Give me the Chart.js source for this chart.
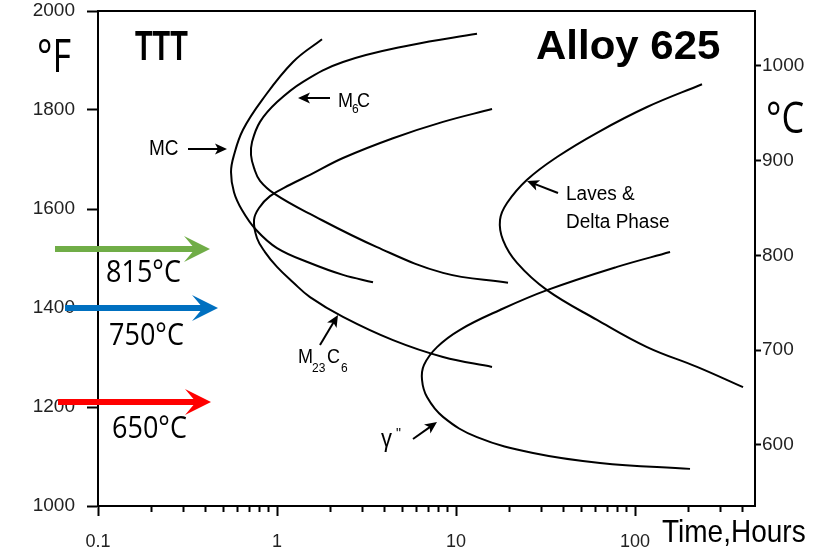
<!DOCTYPE html>
<html><head><meta charset="utf-8">
<script src="https://cdn.jsdelivr.net/npm/chart.js@4.4.1/dist/chart.umd.min.js"></script>
<style>html,body{margin:0;padding:0;background:#fff;overflow:hidden}</style>
</head><body>
<canvas id="c" width="815" height="549"></canvas>
<script>
// ---- data (time in hours, temperature in °F) ----
const mcTime   = [1.784, 1.228, 0.8245, 0.6457, 0.5751, 0.5534, 0.5751, 0.6374, 0.7634, 1.0, 1.529, 2.337, 3.438];
const mcTemp   = [1943, 1897, 1820, 1760, 1709, 1675, 1634, 1598, 1558, 1521, 1491, 1467, 1452];
const m6cTime  = [13.10, 5.534, 2.337, 1.397, 1.0, 0.8037, 0.7249, 0.7157, 0.744, 0.8037, 0.9746, 1.529, 3.619, 8.459, 19.52];
const m6cTemp  = [1954, 1931, 1897, 1857, 1816, 1776, 1735, 1709, 1683, 1657, 1630, 1590, 1523, 1471, 1451];
const m23Time  = [15.89, 8.459, 4.447, 2.337, 1.529, 1.182, 0.914, 0.7934, 0.744, 0.7733, 0.857, 1.0, 1.228, 1.529, 2.337, 4.447, 8.459, 15.89];
const m23Temp  = [1802, 1776, 1743, 1703, 1669, 1649, 1626, 1602, 1578, 1541, 1513, 1483, 1452, 1422, 1382, 1335, 1301, 1281];
const lavesTime = [236.7, 116.7, 61.35, 36.66, 24.93, 19.28, 17.61, 18.31, 21.92, 32.24, 61.35, 116.7, 222.0, 401.3];
const lavesTemp = [1852, 1806, 1754, 1705, 1659, 1612, 1578, 1537, 1491, 1436, 1376, 1321, 1281, 1240];
const gammaTime = [156.9, 79.35, 32.24, 17.61, 10.53, 7.83, 6.626, 6.457, 6.887, 8.459, 13.10, 26.93, 63.75, 202.9];
const gammaTemp = [1513, 1483, 1436, 1396, 1356, 1321, 1285, 1255, 1220, 1180, 1139, 1107, 1087, 1075];

const fTicks = [1000, 1200, 1400, 1600, 1800, 2000];
const cTicks = [600, 700, 800, 900, 1000];
const timeMajor = [0.1, 1, 10, 100];
const timeMinor = [0.2,0.3,0.4,0.5,0.6,0.7,0.8,0.9, 2,3,4,5,6,7,8,9, 20,30,40,50,60,70,80,90, 200,300,400];
const allTime = timeMajor.concat(timeMinor).sort((a,b)=>a-b);

const tempLabels = ['815°C', '750°C', '650°C'];
const tempColors = ['#70AD47', '#0070C0', '#FF0000'];

const curves = [[mcTime, mcTemp], [m6cTime, m6cTemp], [m23Time, m23Temp], [lavesTime, lavesTemp], [gammaTime, gammaTemp]];

const SANS = '"Liberation Sans", Arial, sans-serif';
const OPEN = '"Open Sans", sans-serif';

function T(ctx, s, x, y, font, sx, sy) {
  ctx.save();
  ctx.translate(x, y);
  ctx.scale(sx || 1, sy || 1);
  ctx.font = font;
  ctx.fillStyle = '#000';
  ctx.textAlign = 'left';
  ctx.textBaseline = 'alphabetic';
  ctx.fillText(s, 0, 0);
  ctx.restore();
}
function arr(ctx, x1, y1, x2, y2) {
  const a = Math.atan2(y2 - y1, x2 - x1), c = Math.cos(a), s = Math.sin(a);
  const L = 12, W = 5.5;
  ctx.save();
  ctx.strokeStyle = '#000'; ctx.fillStyle = '#000'; ctx.lineWidth = 2;
  ctx.beginPath(); ctx.moveTo(x1, y1); ctx.lineTo(x2 - c * 8, y2 - s * 8); ctx.stroke();
  ctx.beginPath();
  ctx.moveTo(x2, y2);
  ctx.lineTo(x2 - L * c - W * s, y2 - L * s + W * c);
  ctx.lineTo(x2 - (L - 3) * c, y2 - (L - 3) * s);
  ctx.lineTo(x2 - L * c + W * s, y2 - L * s - W * c);
  ctx.closePath(); ctx.fill();
  ctx.restore();
}
function stealth(ctx, x0, xt, y, color) {
  ctx.save();
  ctx.fillStyle = color;
  ctx.fillRect(x0, y - 3, (xt - 14) - x0, 6);
  ctx.beginPath();
  ctx.moveTo(xt, y);
  ctx.lineTo(xt - 26, y - 13);
  ctx.lineTo(xt - 15, y);
  ctx.lineTo(xt - 26, y + 13);
  ctx.closePath(); ctx.fill();
  ctx.restore();
}

const annot = {
  id: 'annot',
  afterDraw(chart) {
    const ctx = chart.ctx, ca = chart.chartArea;
    ctx.save(); ctx.strokeStyle = '#000'; ctx.lineWidth = 2;
    ctx.beginPath(); ctx.moveTo(ca.left - 1, ca.top); ctx.lineTo(ca.right + 1, ca.top); ctx.stroke();
    ctx.restore();

    T(ctx, 'TTT', 135, 60, 'bold 36px ' + SANS, 0.8, 1.16);
    T(ctx, 'Alloy 625', 536, 59, 'bold 40px ' + SANS, 1.05, 1.03);
    T(ctx, '°F', 37, 72, '36px ' + OPEN, 1, 1.25);
    T(ctx, '°C', 766, 133, '36px ' + OPEN, 1, 1.2);

    stealth(ctx, 55, 210, 249, tempColors[0]);
    stealth(ctx, 65, 218, 308, tempColors[1]);
    stealth(ctx, 58, 211, 402, tempColors[2]);
    T(ctx, tempLabels[0], 106, 282, '27px ' + OPEN, 1, 1.14);
    T(ctx, tempLabels[1], 109, 345, '27px ' + OPEN, 1, 1.14);
    T(ctx, tempLabels[2], 112, 438, '27px ' + OPEN, 1, 1.14);

    T(ctx, 'MC', 149, 155, '19px ' + SANS, 1, 1.15);
    arr(ctx, 188, 149, 227, 149);
    T(ctx, 'M', 338, 107, '18px ' + SANS, 1, 1.15);
    T(ctx, '6', 352, 113, '12px ' + SANS, 1, 1.1);
    T(ctx, 'C', 357, 107, '18px ' + SANS, 1, 1.15);
    arr(ctx, 330, 98, 298, 98);
    T(ctx, 'M', 298, 363, '18px ' + SANS, 1, 1.15);
    T(ctx, '23', 312, 372, '12px ' + SANS, 1, 1.1);
    T(ctx, 'C', 327, 363, '18px ' + SANS, 1, 1.15);
    T(ctx, '6', 341, 372, '12px ' + SANS, 1, 1.1);
    arr(ctx, 320, 345, 338, 315);
    T(ctx, 'γ', 381, 447, '22px ' + SANS, 1, 1.2);
    T(ctx, '"', 396, 438, '14px ' + SANS, 1, 1);
    arr(ctx, 413, 439, 437, 422);
    T(ctx, 'Laves &', 566, 200, '19px ' + SANS, 1, 1.08);
    T(ctx, 'Delta Phase', 566, 228, '19px ' + SANS, 1, 1.08);
    arr(ctx, 558, 193, 527, 181);

    T(ctx, 'Time,Hours', 662, 542, '28px ' + SANS, 1, 1.1);
  }
};

function fixV(width) {
  return s => { s.width = width; s.paddingTop = 0; s.paddingBottom = 0; };
}

new Chart(document.getElementById('c'), {
  type: 'scatter',
  data: {
    datasets: curves.map(([t, f]) => ({
      data: t.map((v, i) => ({ x: v, y: f[i] })),
      showLine: true, borderColor: '#000', borderWidth: 2,
      pointRadius: 0, pointHoverRadius: 0, tension: 0.4, fill: false,
      xAxisID: 'x', yAxisID: 'y'
    }))
  },
  options: {
    responsive: false, animation: false, devicePixelRatio: 1,
    layout: { padding: { top: 11, left: 0, right: 0, bottom: 0 } },
    plugins: { legend: { display: false }, tooltip: { enabled: false }, title: { display: false } },
    scales: {
      x: {
        type: 'logarithmic', position: 'bottom', min: 0.1, max: 468,
        afterBuildTicks: s => { s.ticks = allTime.map(v => ({ value: v, major: timeMajor.includes(v) })); },
        afterFit: s => { s.height = 43; s.paddingLeft = 0; s.paddingRight = 0; },
        ticks: {
          autoSkip: false, maxRotation: 0, minRotation: 0, padding: 17, color: '#222',
          font: { family: SANS, size: 18, lineHeight: 1 },
          callback: v => timeMajor.includes(v) ? String(v) : ''
        },
        grid: {
          drawOnChartArea: false, drawTicks: true, tickLength: 10, tickColor: '#000', tickWidth: 2,
          tickBorderDash: c => (c.tick && timeMajor.includes(c.tick.value)) ? [] : [5, 30]
        },
        border: { display: true, color: '#000', width: 2 }
      },
      y: {
        type: 'linear', position: 'left', min: 1000, max: 2000,
        afterBuildTicks: s => { s.ticks = fTicks.map(v => ({ value: v })); },
        afterFit: fixV(98),
        ticks: { padding: 12, color: '#222', font: { family: SANS, size: 19, lineHeight: 1 }, callback: v => String(v) },
        grid: { drawOnChartArea: false, drawTicks: true, tickLength: 11, tickColor: '#000', tickWidth: 2 },
        border: { display: true, color: '#000', width: 2 }
      },
      yC: {
        type: 'linear', position: 'right', min: 535.6, max: 1058,
        afterBuildTicks: s => { s.ticks = cTicks.map(v => ({ value: v })); },
        afterFit: fixV(60),
        ticks: { padding: 1, color: '#222', font: { family: SANS, size: 19, lineHeight: 1 }, callback: v => String(v) },
        grid: { drawOnChartArea: false, drawTicks: true, tickLength: 6, tickColor: '#000', tickWidth: 2 },
        border: { display: true, color: '#000', width: 2 }
      }
    }
  },
  plugins: [annot]
});
</script>
</body></html>
